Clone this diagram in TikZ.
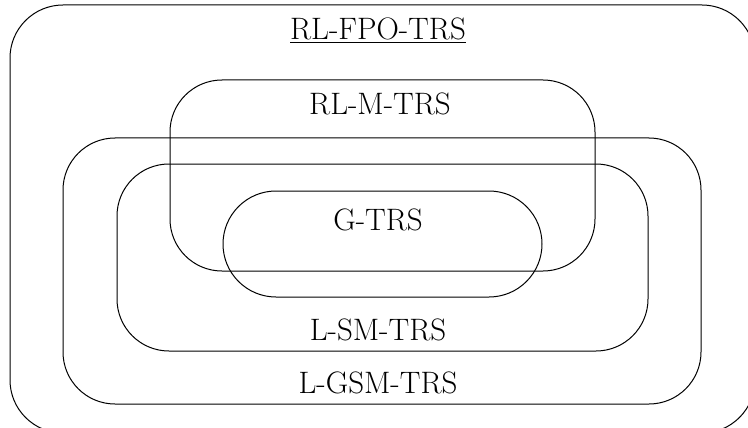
\documentclass[tikz,border=0pt]{standalone}
\begin{document}
\begin{tikzpicture}[x=1pt,y=-1pt,
  setbox/.style={draw=black, line width=1pt, rounded corners=52pt},
  setlabel/.style={inner sep=0pt, anchor=base, font=\fontsize{31}{37}\selectfont}]
  \useasboundingbox (0,0) rectangle (748,428);
  \clip (0,0) rectangle (748,428);

  % nested classes, drawn as rounded boxes
  \draw[setbox, rounded corners=53pt] (10,5) rectangle (755,433);
  \draw[setbox] (170,80) rectangle (595,271);
  \draw[setbox] (63,138) rectangle (701,404);
  \draw[setbox] (117,164) rectangle (648,351);
  \draw[setbox, rounded corners=53pt] (223,191) rectangle (542,297);

  % class names
  \node[setlabel] (fpo) at (378,40) {\underline{RL-FPO-TRS}};
  \node[setlabel] (m)   at (380,115) {RL-M-TRS};
  \node[setlabel] (g)   at (378,230) {G-TRS};
  \node[setlabel] (sm)  at (378,340) {L-SM-TRS};
  \node[setlabel] (gsm) at (378,393) {L-GSM-TRS};
\end{tikzpicture}
\end{document}
